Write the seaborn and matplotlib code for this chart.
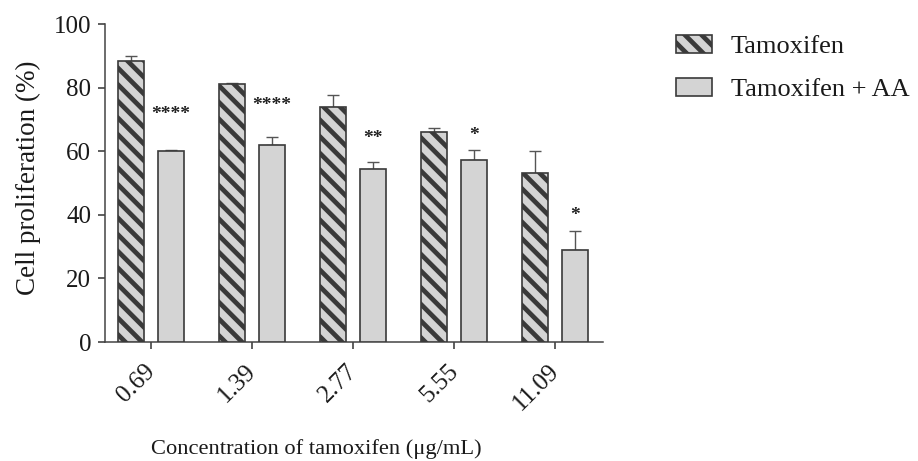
import matplotlib
matplotlib.use("Agg")
import matplotlib.pyplot as plt
from matplotlib.transforms import ScaledTranslation
import seaborn as sns
import pandas as pd
import numpy as np

concentrations = ["0.69", "1.39", "2.77", "5.55", "11.09"]
series = ["Tamoxifen", "Tamoxifen + AA"]
tam_values = [88.5, 81.0, 74.0, 66.1, 53.0]
tam_err = [1.5, 0.3, 3.7, 1.3, 7.0]
aa_values = [60.2, 62.0, 54.3, 57.1, 28.9]
aa_err = [0.3, 2.4, 2.4, 3.3, 6.0]
stars = ["****", "****", "**", "*", "*"]
star_y = [70.1, 72.8, 62.6, 63.5, 38.4]

DPI = 100
sns.set_theme(style="ticks")
plt.rcParams["font.family"] = ["Liberation Serif", "DejaVu Serif"]
plt.rcParams["hatch.linewidth"] = 3.4
plt.rcParams["hatch.color"] = "#222222"

df = pd.DataFrame({
    "conc": concentrations * 2,
    "series": [series[0]] * 5 + [series[1]] * 5,
    "value": tam_values + aa_values,
})

fig = plt.figure(figsize=(918 / DPI, 461 / DPI), dpi=DPI)
ax = fig.add_axes([105 / 918, 1 - 342 / 461, (603 - 105) / 918, (342 - 24) / 461])

fill = "#d4d4d4"
edge = "#3a3a3a"
sns.barplot(data=df, x="conc", y="value", hue="series", order=concentrations,
            hue_order=series, palette=[fill, fill], errorbar=None,
            width=0.78, gap=0.34, edgecolor=edge, linewidth=1.2, ax=ax,
            legend=False, zorder=3)

cont_tam, cont_aa = ax.containers[0], ax.containers[1]
for p in cont_tam.patches:
    p.set_hatch("\\\\")
    p.set_edgecolor(edge)

for cont, vals, errs in [(cont_tam, tam_values, tam_err), (cont_aa, aa_values, aa_err)]:
    xs = [p.get_x() + p.get_width() / 2 for p in cont.patches]
    ax.errorbar(xs, vals, yerr=[np.zeros(len(errs)), errs], fmt="none",
                ecolor="#555555", elinewidth=1.0, capsize=4.3, capthick=1.0, zorder=2)

xs_aa = [p.get_x() + p.get_width() / 2 for p in cont_aa.patches]
for x, s, y in zip(xs_aa, stars, star_y):
    ax.text(x, y, s, ha="center", va="baseline", fontsize=14, color="#222222",
            fontweight="bold")

ax.set_ylim(0, 100)
ax.set_xlim(-0.455, 4.475)
ax.set_yticks([0, 20, 40, 60, 80, 100])
ax.tick_params(axis="both", labelsize=18, colors="#333333", length=5, width=1.1,
               labelcolor="#1a1a1a", pad=5)
shift = ScaledTranslation(-7 / DPI, -4 / DPI, fig.dpi_scale_trans)
for lab in ax.get_xticklabels():
    lab.set_rotation(45)
    lab.set_ha("right")
    lab.set_rotation_mode("anchor")
    lab.set_transform(lab.get_transform() + shift)
for s in ["top", "right"]:
    ax.spines[s].set_visible(False)
for s in ["left", "bottom"]:
    ax.spines[s].set_color("#444444")
    ax.spines[s].set_linewidth(1.1)

ax.set_ylabel("Cell proliferation (%)", fontsize=19.5, color="#1a1a1a")
ax.set_xlabel("Concentration of tamoxifen (μg/mL)", fontsize=16.2, color="#1a1a1a")
ax.xaxis.set_label_coords(0.425, -0.305)
ax.yaxis.set_label_coords(-0.128, 0.515)

handles = [cont_tam.patches[0], cont_aa.patches[0]]
leg = fig.legend(handles, series, loc="upper left",
                 bbox_to_anchor=(676 / 918, 1 - 35.5 / 461),
                 frameon=False, fontsize=19, handlelength=1.36, handleheight=0.64,
                 labelspacing=0.75, handletextpad=0.72, borderpad=0, borderaxespad=0)
for t in leg.get_texts():
    t.set_color("#1a1a1a")

fig.savefig("out.png", dpi=DPI)
